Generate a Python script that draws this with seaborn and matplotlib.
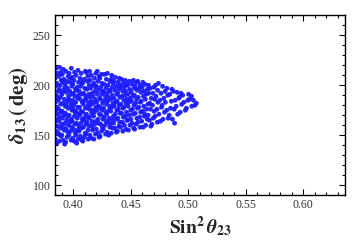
import matplotlib
matplotlib.use("Agg")
import matplotlib.pyplot as plt
from matplotlib.ticker import MultipleLocator
import seaborn as sns
import pandas as pd

# sin^2(theta23) of the scanned points (one line per strip, matched line by line with delta13)
sin2_theta23 = [
    0.3858, 0.3845, 0.3868, 0.3853, 0.3863, 0.3841, 0.3860, 0.3866, 0.3849, 0.3855, 0.3844, 0.3865, 0.3852, 0.3869, 0.3847, 0.3857, 0.3842, 0.3861, 0.3850,
    0.3880, 0.3893, 0.3872, 0.3887, 0.3899, 0.3877, 0.3884, 0.3895, 0.3874, 0.3890, 0.3871, 0.3888, 0.3897, 0.3879, 0.3885, 0.3896, 0.3875, 0.3891, 0.3882,
    0.3925, 0.3912, 0.3901, 0.3921, 0.3915, 0.3928, 0.3907, 0.3918, 0.3904, 0.3929, 0.3910, 0.3923, 0.3902, 0.3916, 0.3926, 0.3909, 0.3919, 0.3905, 0.3914,
    0.3934, 0.3946, 0.3953, 0.3939, 0.3958, 0.3943, 0.3950, 0.3932, 0.3955, 0.3937, 0.3948, 0.3959, 0.3940, 0.3951, 0.3931, 0.3945, 0.3956, 0.3935,
    0.3981, 0.3962, 0.3978, 0.3986, 0.3970, 0.3983, 0.3965, 0.3989, 0.3974, 0.3980, 0.3961, 0.3985, 0.3969, 0.3988, 0.3972, 0.3976, 0.3964, 0.3983,
    0.4008, 0.3995, 0.4018, 0.4003, 0.4013, 0.3991, 0.4010, 0.4016, 0.3999, 0.4005, 0.3994, 0.4015, 0.4002, 0.4019, 0.3997, 0.4007, 0.3992, 0.4011,
    0.4030, 0.4043, 0.4022, 0.4037, 0.4049, 0.4027, 0.4034, 0.4045, 0.4024, 0.4040, 0.4021, 0.4038, 0.4047, 0.4029, 0.4035, 0.4046, 0.4025, 0.4041,
    0.4075, 0.4062, 0.4051, 0.4071, 0.4065, 0.4078, 0.4057, 0.4068, 0.4054, 0.4079, 0.4060, 0.4073, 0.4052, 0.4066, 0.4076, 0.4059, 0.4069,
    0.4084, 0.4096, 0.4103, 0.4089, 0.4108, 0.4093, 0.4100, 0.4082, 0.4105, 0.4087, 0.4098, 0.4109, 0.4090, 0.4101, 0.4081, 0.4095, 0.4106,
    0.4131, 0.4112, 0.4128, 0.4136, 0.4120, 0.4133, 0.4115, 0.4139, 0.4124, 0.4130, 0.4111, 0.4135, 0.4119, 0.4138, 0.4122, 0.4126, 0.4114,
    0.4158, 0.4145, 0.4168, 0.4153, 0.4163, 0.4141, 0.4160, 0.4166, 0.4149, 0.4155, 0.4144, 0.4165, 0.4152, 0.4169, 0.4147, 0.4157, 0.4142,
    0.4180, 0.4193, 0.4172, 0.4187, 0.4199, 0.4177, 0.4184, 0.4195, 0.4174, 0.4190, 0.4171, 0.4188, 0.4197, 0.4179, 0.4185, 0.4196,
    0.4225, 0.4212, 0.4201, 0.4221, 0.4215, 0.4228, 0.4207, 0.4218, 0.4204, 0.4229, 0.4210, 0.4223, 0.4202, 0.4216, 0.4226, 0.4209,
    0.4234, 0.4246, 0.4253, 0.4239, 0.4258, 0.4243, 0.4250, 0.4232, 0.4255, 0.4237, 0.4248, 0.4259, 0.4240, 0.4251, 0.4231, 0.4245,
    0.4281, 0.4262, 0.4278, 0.4286, 0.4270, 0.4283, 0.4265, 0.4289, 0.4274, 0.4280, 0.4261, 0.4285, 0.4269, 0.4288, 0.4272,
    0.4308, 0.4295, 0.4318, 0.4303, 0.4313, 0.4291, 0.4310, 0.4316, 0.4299, 0.4305, 0.4294, 0.4315, 0.4302, 0.4319, 0.4297,
    0.4330, 0.4343, 0.4322, 0.4337, 0.4349, 0.4327, 0.4334, 0.4345, 0.4324, 0.4340, 0.4321, 0.4338, 0.4347, 0.4329, 0.4335,
    0.4375, 0.4362, 0.4351, 0.4371, 0.4365, 0.4378, 0.4357, 0.4368, 0.4354, 0.4379, 0.4360, 0.4373, 0.4352, 0.4366,
    0.4384, 0.4396, 0.4403, 0.4389, 0.4408, 0.4393, 0.4400, 0.4382, 0.4405, 0.4387, 0.4398, 0.4409, 0.4390, 0.4401,
    0.4431, 0.4412, 0.4428, 0.4436, 0.4420, 0.4433, 0.4415, 0.4439, 0.4424, 0.4430, 0.4411, 0.4435, 0.4419,
    0.4458, 0.4445, 0.4468, 0.4453, 0.4463, 0.4441, 0.4460, 0.4466, 0.4449, 0.4455, 0.4444, 0.4465, 0.4452,
    0.4480, 0.4493, 0.4472, 0.4487, 0.4499, 0.4477, 0.4484, 0.4495, 0.4474, 0.4490, 0.4471, 0.4488,
    0.4525, 0.4512, 0.4501, 0.4521, 0.4515, 0.4528, 0.4507, 0.4518, 0.4504, 0.4529, 0.4510, 0.4523,
    0.4534, 0.4546, 0.4553, 0.4539, 0.4558, 0.4543, 0.4550, 0.4532, 0.4555, 0.4537, 0.4548,
    0.4581, 0.4562, 0.4578, 0.4586, 0.4570, 0.4583, 0.4565, 0.4589, 0.4574, 0.4580, 0.4561,
    0.4608, 0.4595, 0.4618, 0.4603, 0.4613, 0.4591, 0.4610, 0.4616, 0.4599, 0.4605,
    0.4630, 0.4643, 0.4622, 0.4637, 0.4649, 0.4627, 0.4634, 0.4645, 0.4624,
    0.4675, 0.4662, 0.4651, 0.4671, 0.4665, 0.4678, 0.4657, 0.4668, 0.4654,
    0.4684, 0.4696, 0.4703, 0.4689, 0.4708, 0.4693, 0.4700,
    0.4731, 0.4712, 0.4728, 0.4736, 0.4720, 0.4733, 0.4715,
    0.4758, 0.4745, 0.4768, 0.4753, 0.4763, 0.4741,
    0.4780, 0.4793, 0.4772, 0.4787, 0.4799, 0.4777,
    0.4825, 0.4812, 0.4801, 0.4821, 0.4815,
    0.4834, 0.4846, 0.4853, 0.4839, 0.4858,
    0.4881, 0.4862, 0.4878, 0.4886, 0.4870,
    0.4908, 0.4895, 0.4918, 0.4903,
    0.4930, 0.4943, 0.4922, 0.4937,
    0.4975, 0.4962, 0.4951,
    0.4984, 0.4996, 0.5003,
    0.5031, 0.5012, 0.5028,
    0.5058, 0.5045,
    0.5070,
]

# delta13 (deg) of the same points
delta13 = [
    142, 146, 151, 154, 159, 163, 166, 171, 175, 178, 183, 187, 190, 194, 199, 202, 207, 212, 217,
    144, 149, 152, 157, 161, 164, 168, 173, 176, 181, 185, 188, 193, 196, 200, 205, 209, 213, 218,
    141, 145, 150, 155, 158, 162, 167, 170, 174, 179, 182, 186, 191, 195, 198, 203, 206, 211, 216,
    143, 148, 153, 156, 160, 165, 169, 172, 177, 181, 184, 189, 193, 197, 201, 204, 209, 214,
    145, 150, 154, 158, 163, 166, 170, 175, 179, 182, 186, 191, 194, 199, 203, 207, 212, 217,
    144, 147, 152, 156, 161, 164, 169, 173, 176, 180, 185, 189, 192, 196, 201, 205, 208, 213,
    142, 146, 150, 155, 159, 162, 167, 171, 174, 178, 183, 187, 190, 195, 198, 203, 210, 215,
    145, 149, 154, 157, 162, 166, 170, 174, 178, 183, 186, 191, 194, 199, 203, 207, 212,
    144, 148, 152, 158, 161, 165, 168, 173, 177, 181, 185, 189, 192, 197, 202, 206, 214,
    146, 151, 155, 159, 163, 167, 171, 176, 179, 183, 187, 191, 196, 200, 204, 209, 213,
    147, 150, 155, 160, 164, 168, 172, 175, 180, 184, 188, 192, 197, 200, 205, 210, 214,
    146, 151, 157, 161, 164, 169, 173, 178, 182, 186, 189, 194, 198, 202, 207, 212,
    148, 152, 156, 162, 166, 171, 175, 179, 183, 187, 191, 195, 199, 204, 209, 214,
    149, 154, 158, 161, 166, 170, 175, 178, 182, 186, 191, 194, 198, 202, 207, 211,
    151, 156, 160, 164, 168, 173, 177, 181, 185, 189, 193, 197, 201, 206, 211,
    150, 153, 158, 163, 167, 171, 175, 179, 184, 188, 192, 195, 200, 204, 212,
    152, 157, 161, 165, 169, 174, 178, 182, 186, 190, 194, 198, 202, 206, 210,
    153, 157, 162, 166, 171, 175, 179, 183, 187, 191, 195, 199, 204, 208,
    154, 159, 163, 167, 172, 176, 180, 184, 188, 192, 196, 200, 203, 207,
    154, 158, 163, 168, 172, 177, 181, 185, 189, 194, 198, 202, 206,
    156, 160, 165, 169, 173, 178, 182, 186, 190, 194, 198, 201, 205,
    155, 160, 165, 170, 175, 179, 183, 187, 191, 196, 200, 204,
    157, 162, 166, 171, 176, 180, 184, 189, 193, 197, 201, 205,
    156, 161, 167, 172, 177, 182, 186, 190, 195, 199, 203,
    158, 163, 168, 173, 178, 183, 188, 193, 197, 200, 204,
    158, 164, 169, 174, 179, 184, 189, 194, 198, 203,
    160, 166, 171, 176, 181, 186, 191, 196, 201,
    159, 165, 170, 176, 182, 187, 192, 197, 200,
    161, 167, 174, 180, 186, 192, 198,
    163, 169, 176, 183, 189, 195, 200,
    164, 171, 178, 185, 192, 202,
    166, 173, 180, 187, 194, 199,
    167, 175, 183, 190, 197,
    170, 177, 184, 191, 196,
    162, 166, 176, 185, 194,
    171, 179, 187, 193,
    173, 181, 188, 192,
    175, 183, 190,
    177, 185, 191,
    179, 186, 189,
    180, 185,
    182,
]

x_ticks = [0.40, 0.45, 0.50, 0.55, 0.60]
x_tick_labels = ["0.40", "0.45", "0.50", "0.55", "0.60"]
y_ticks = [100, 150, 200, 250]
y_tick_labels = ["100", "150", "200", "250"]

assert len(sin2_theta23) == len(delta13)
df = pd.DataFrame({"s23": sin2_theta23, "d13": delta13})

sns.set_style("ticks")
plt.rcParams["font.family"] = ["Liberation Serif", "DejaVu Serif"]
plt.rcParams["mathtext.fontset"] = "stix"

fig = plt.figure(figsize=(3.6, 2.44), dpi=100)
ax = fig.add_axes([0.1514, 0.2008, 0.8083, 0.7357])

sns.scatterplot(data=df, x="s23", y="d13", ax=ax, s=12, color="#1a1aff",
                edgecolor="none", linewidth=0, alpha=0.95, legend=False)

ax.set_xlim(0.3837, 0.6367)
ax.set_ylim(90, 270)
ax.set_xticks(x_ticks)
ax.set_xticklabels(x_tick_labels)
ax.set_yticks(y_ticks)
ax.set_yticklabels(y_tick_labels)
ax.xaxis.set_minor_locator(MultipleLocator(0.01))
ax.yaxis.set_minor_locator(MultipleLocator(10))
ax.tick_params(which="both", direction="in", top=True, right=True,
               labelsize=8.5, colors="black", labelcolor="#333333", width=0.8, pad=3)
ax.tick_params(which="major", length=4)
ax.tick_params(which="minor", length=2)
for sp in ax.spines.values():
    sp.set_visible(True)
    sp.set_linewidth(1.0)
    sp.set_color("black")

ax.set_xlabel(r"$\mathbf{Sin}^{\mathbf{2}}\,\boldsymbol{\theta}_{\mathbf{23}}$", fontsize=14, labelpad=2)
ax.set_ylabel(r"$\boldsymbol{\delta}_{\mathbf{13}}\,\mathbf{(\,deg)}$", fontsize=15, labelpad=2)

fig.savefig("out.png", dpi=100)
